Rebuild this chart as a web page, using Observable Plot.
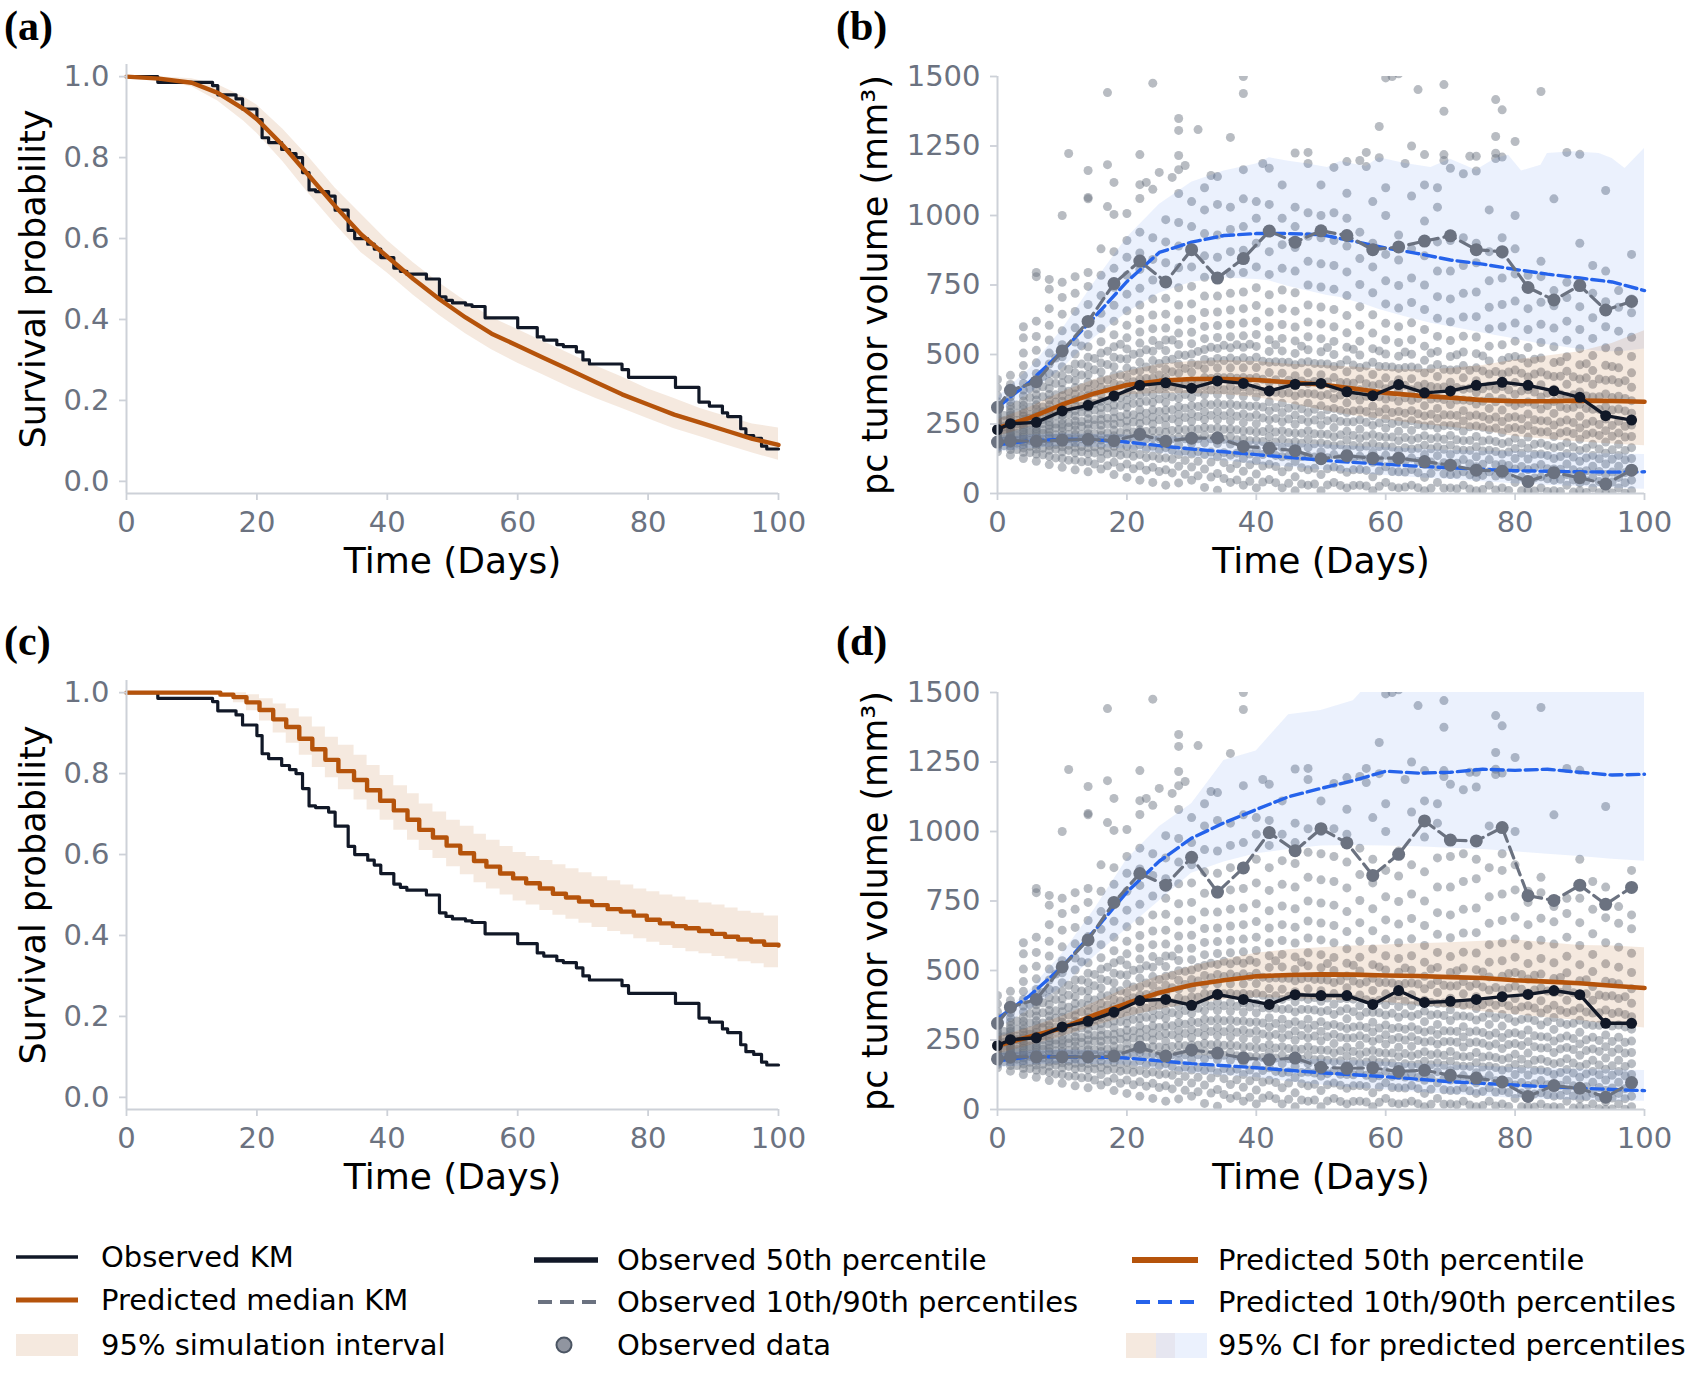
<!DOCTYPE html>
<html>
<head>
<meta charset="utf-8">
<script src="https://cdn.jsdelivr.net/npm/d3@7"></script>
<script src="https://cdn.jsdelivr.net/npm/@observablehq/plot@0.6"></script>
<style>
  body { margin: 0; background: #fff; width: 1702px; height: 1379px; position: relative; overflow: hidden;
         font-family: "DejaVu Sans", sans-serif; }
  .panel { position: absolute; }
  .tag { position: absolute; font-family: "Liberation Serif", serif; font-weight: bold; font-size: 42px; line-height: 46px; color: #000; }
  .lg { position: absolute; font-size: 29px; line-height: 36px; color: #000; white-space: nowrap; }
  .sw { position: absolute; }
</style>
</head>
<body>
<div class="tag" style="left:4px;top:3px">(a)</div>
<div class="tag" style="left:836px;top:3px">(b)</div>
<div class="tag" style="left:4px;top:618px">(c)</div>
<div class="tag" style="left:836px;top:618px">(d)</div>
<div id="pa" class="panel" style="left:0;top:0"></div>
<div id="pb" class="panel" style="left:800px;top:0"></div>
<div id="pc" class="panel" style="left:0;top:616px"></div>
<div id="pd" class="panel" style="left:800px;top:616px"></div>
<div id="legend"></div>
<script>
// ---- Observed Kaplan–Meier (same cohort in panels a and c) ----
const kmObsT = [0, 4.8, 13.2, 14, 16.8, 17.8, 20, 20.8, 21.8, 23.8, 25, 26, 27, 28, 29, 31, 32, 34, 35, 37,
  38, 39, 41, 42, 43, 46, 48, 49, 50, 52, 53, 55, 60, 63, 64, 66, 67, 69, 70, 71,
  76, 77, 84.2, 87.8, 89.4, 91.4, 92.2, 94.2, 95, 96.2, 97.4, 98.2, 100];
const kmObsS = [1.0, 0.986, 0.978, 0.955, 0.945, 0.92, 0.894, 0.849, 0.837, 0.82, 0.81, 0.8, 0.763, 0.72, 0.716, 0.705, 0.67, 0.62, 0.6, 0.586,
  0.574, 0.553, 0.527, 0.519, 0.512, 0.5, 0.456, 0.447, 0.441, 0.436, 0.432, 0.404, 0.38, 0.357, 0.349, 0.338, 0.333, 0.32, 0.3, 0.29,
  0.276, 0.257, 0.232, 0.196, 0.186, 0.169, 0.16, 0.13, 0.113, 0.106, 0.087, 0.08, 0.08];

// ---- Predicted median KM, panel (a) ----
const kmPredAT = [0, 5, 10, 14, 18, 20, 24, 28, 32, 36, 40, 44, 48, 52, 56, 60, 64, 68, 72, 76, 80, 84, 88, 92, 96, 100];
const kmPredA  = [1.0, 0.995, 0.985, 0.96, 0.92, 0.895, 0.83, 0.755, 0.68, 0.61, 0.555, 0.5, 0.45, 0.405, 0.365, 0.335, 0.305, 0.275, 0.245, 0.215, 0.19, 0.165, 0.145, 0.125, 0.105, 0.09];
const kmLoA    = [1.0, 0.99, 0.975, 0.94, 0.89, 0.86, 0.79, 0.71, 0.635, 0.565, 0.515, 0.46, 0.41, 0.365, 0.325, 0.292, 0.262, 0.232, 0.205, 0.18, 0.155, 0.13, 0.11, 0.09, 0.07, 0.052];
const kmHiA    = [1.0, 1.0, 0.995, 0.98, 0.95, 0.93, 0.87, 0.8, 0.725, 0.66, 0.595, 0.54, 0.49, 0.445, 0.405, 0.375, 0.345, 0.315, 0.285, 0.258, 0.228, 0.205, 0.18, 0.16, 0.142, 0.132];

// ---- Predicted median KM, panel (c) ----
const kmPredCT = [0, 14.4, 16.4, 18.4, 20.4, 22.5, 24.5, 26.5, 28.5, 30.5, 32.5, 34.9, 36.9, 38.9, 41, 43.1, 44.9, 47, 49.1, 51.2,
  53.3, 55.2, 57.3, 59.3, 61.3, 63.4, 65.4, 67.4, 69.4, 71.4, 73.8, 75.8, 77.8, 79.8, 81.8, 83.8, 85.8, 87.8, 89.8, 91.8,
  93.8, 95.8, 97.8, 100];
const kmPredC = [1.0, 0.995, 0.989, 0.976, 0.957, 0.934, 0.915, 0.886, 0.86, 0.834, 0.806, 0.784, 0.759, 0.733, 0.709, 0.686, 0.661, 0.642, 0.622, 0.603,
  0.584, 0.57, 0.553, 0.541, 0.529, 0.516, 0.503, 0.494, 0.484, 0.475, 0.465, 0.459, 0.449, 0.439, 0.43, 0.423, 0.418, 0.411, 0.404, 0.397,
  0.39, 0.385, 0.377, 0.375];
const kmLoC = [1.0, 0.99, 0.975, 0.955, 0.93, 0.9, 0.875, 0.845, 0.815, 0.79, 0.76, 0.735, 0.71, 0.685, 0.66, 0.635, 0.61, 0.59, 0.57, 0.55,
  0.53, 0.515, 0.5, 0.485, 0.475, 0.462, 0.45, 0.44, 0.43, 0.42, 0.41, 0.402, 0.392, 0.383, 0.375, 0.368, 0.36, 0.355, 0.348, 0.342,
  0.335, 0.33, 0.32, 0.31];
const kmHiC = [1.0, 1.0, 1.0, 0.995, 0.985, 0.972, 0.96, 0.94, 0.915, 0.89, 0.87, 0.845, 0.82, 0.795, 0.77, 0.75, 0.725, 0.705, 0.685, 0.67,
  0.65, 0.635, 0.62, 0.605, 0.595, 0.585, 0.575, 0.565, 0.555, 0.545, 0.535, 0.525, 0.515, 0.508, 0.5, 0.495, 0.487, 0.48, 0.475, 0.468,
  0.46, 0.455, 0.448, 0.444];

// ---- Observed tumour-volume percentiles ----
const obsT = [0, 2, 6, 10, 14, 18, 22, 26, 30, 34, 38, 42, 46, 50, 54, 58, 62, 66, 70, 74, 78, 82, 86, 90, 94, 98];
const obs50B = [230, 251, 256, 297, 317, 351, 389, 398, 379, 405, 396, 369, 393, 396, 366, 352, 392, 362, 369, 389, 400, 389, 369, 346, 280, 264];
const obs90B = [310, 371, 402, 513, 619, 755, 836, 761, 877, 775, 845, 944, 904, 945, 928, 877, 887, 908, 927, 877, 870, 741, 696, 748, 660, 691];
const obs10B = [185, 190, 188, 192, 195, 190, 213, 188, 199, 200, 169, 163, 154, 125, 136, 127, 127, 115, 102, 84, 80, 43, 75, 57, 34, 84];
const obs50D = [230, 251, 258, 297, 317, 350, 392, 396, 375, 414, 396, 378, 413, 410, 410, 378, 428, 385, 389, 396, 406, 414, 428, 413, 310, 310];
const obs90D = [310, 368, 396, 513, 610, 745, 849, 807, 907, 782, 869, 996, 931, 1010, 959, 842, 918, 1038, 969, 966, 1014, 769, 752, 807, 738, 799];
const obs10D = [182, 189, 189, 189, 189, 192, 224, 192, 214, 203, 185, 179, 185, 152, 148, 150, 137, 141, 123, 113, 99, 47, 86, 76, 44, 97];

// ---- Predicted percentiles and their 95% CIs ----
const predT = [0, 5, 10, 15, 20, 25, 30, 35, 40, 45, 50, 55, 60, 65, 70, 75, 80, 85, 90, 95, 100];
const pred50B = [235, 272, 320, 360, 390, 405, 412, 412, 408, 400, 392, 378, 362, 352, 345, 336, 332, 332, 334, 333, 330];
const pred90B = [310, 402, 511, 635, 762, 867, 904, 928, 935, 935, 931, 908, 883, 863, 840, 825, 806, 789, 775, 761, 730];
const pred10B = [175, 190, 195, 193, 185, 172, 160, 150, 140, 130, 120, 112, 105, 98, 92, 87, 82, 80, 78, 77, 78];
const medLoB = [205, 240, 285, 325, 355, 360, 360, 355, 345, 325, 300, 280, 265, 250, 238, 225, 205, 195, 185, 178, 172];
const medHiB = [265, 310, 365, 410, 440, 465, 475, 478, 475, 465, 460, 455, 445, 445, 450, 460, 480, 495, 510, 540, 585];
const lowLoB = [150, 162, 170, 166, 160, 145, 130, 118, 105, 95, 85, 75, 65, 57, 50, 42, 35, 30, 25, 20, 15];
const lowHiB = [200, 210, 215, 213, 210, 205, 200, 192, 185, 180, 175, 170, 165, 160, 155, 152, 150, 148, 145, 142, 140];
const upT_B  = [0, 5, 10, 15, 20, 25, 30, 35, 40, 42, 45, 48, 51, 53, 57, 59, 63, 67, 70, 74, 77, 79, 81, 84, 85, 89, 93, 95, 97, 100];
const upLoB  = [290, 360, 450, 560, 650, 720, 760, 775, 770, 765, 745, 728, 712, 705, 678, 662, 636, 612, 600, 582, 568, 560, 550, 538, 535, 522, 512, 510, 512, 520];
const upHiB  = [345, 450, 590, 760, 920, 1040, 1120, 1160, 1185, 1208, 1195, 1185, 1173, 1194, 1176, 1208, 1187, 1173, 1202, 1163, 1205, 1217, 1160, 1181, 1223, 1229, 1223, 1205, 1169, 1241];

const pred50D = [230, 262, 293, 340, 382, 420, 448, 465, 479, 484, 486, 485, 482, 480, 476, 473, 465, 460, 454, 445, 437];
const pred90D = [327, 410, 513, 644, 782, 893, 976, 1031, 1079, 1125, 1155, 1183, 1217, 1210, 1213, 1224, 1220, 1224, 1213, 1203, 1206];
const pred10D = [175, 190, 190, 188, 185, 175, 165, 158, 150, 141, 132, 125, 118, 109, 100, 94, 88, 82, 77, 72, 68];
const medLoD = [200, 230, 262, 300, 334, 360, 380, 395, 403, 400, 395, 390, 385, 375, 365, 352, 341, 330, 320, 305, 293];
const medHiD = [260, 295, 335, 385, 437, 480, 515, 540, 562, 575, 582, 588, 592, 596, 600, 605, 610, 600, 590, 588, 582];
const upLoD  = [290, 360, 440, 550, 650, 750, 850, 890, 920, 935, 948, 950, 948, 945, 940, 935, 927, 918, 910, 900, 893];
const upHiD  = [330, 430, 560, 720, 900, 1017, 1100, 1255, 1290, 1420, 1435, 1470, 1600, 1600, 1600, 1600, 1600, 1600, 1600, 1600, 1600];
const lowLoD = [150, 160, 165, 162, 160, 145, 130, 122, 115, 100, 88, 78, 70, 62, 55, 48, 40, 36, 33, 31, 30];
const lowHiD = [200, 210, 215, 212, 205, 200, 195, 190, 185, 182, 180, 175, 170, 165, 160, 155, 150, 147, 145, 142, 140];

// ---- Observed individual tumour volumes, by measurement day ----
const obsCols = [
  [0,  [150,162,171,178,184,189,194,199,203,208,212,217,221,226,230,235,240,246,252,259,266,275,286,298,312,330,352,380,410]],
  [2,  [138,158,170,180,187,193,199,205,211,217,223,229,236,243,250,257,264,272,281,291,302,315,330,348,368,392,425]],
  [4,  [126,148,164,176,186,195,203,211,220,229,238,247,257,267,278,290,303,317,333,351,372,396,425,460,505,560,600]],
  [6,  [116,142,160,174,185,195,204,213,223,233,243,254,265,277,290,304,319,336,355,377,402,432,470,515,565,620,780,795]],
  [8,  [104,134,156,172,185,197,208,220,232,245,258,272,286,301,318,336,356,378,403,432,466,505,552,605,665,735,770]],
  [10, [94,126,150,168,183,196,209,222,236,250,265,281,297,314,332,352,374,398,425,456,492,535,585,645,705,760,1000]],
  [11, [1223]],
  [12, [85,120,146,166,182,197,212,228,244,261,279,298,317,337,358,381,406,434,466,502,545,596,655,720,780]],
  [14, [78,115,143,165,183,199,215,232,250,269,289,309,330,352,375,400,427,457,490,528,572,622,680,745,795,1060,1065,1162]],
  [16, [88,126,152,174,192,209,227,246,266,287,309,332,356,381,408,437,469,505,546,593,648,712,785,880]],
  [17, [1032,1183,1442]],
  [18, [68,112,145,170,190,208,228,249,271,294,318,343,369,396,425,456,490,528,571,620,677,742,810,870,1004,1119]],
  [20, [58,106,142,170,195,216,238,261,285,310,336,363,391,420,451,484,520,560,605,657,717,785,850,910,1007]],
  [22, [48,100,140,175,205,229,252,276,301,327,354,382,411,441,472,505,541,581,626,678,738,806,865,940,1061,1111,1219]],
  [23, [1119]],
  [24, [40,94,135,170,200,226,250,275,301,328,356,385,415,446,478,512,550,593,642,700,768,842,920,1094,1476]],
  [25, [1155]],
  [26, [30,85,128,165,192,220,246,273,300,328,357,386,416,447,479,514,552,595,645,702,760,830,905,985]],
  [27, [1137]],
  [28, [38,98,140,175,203,230,257,285,313,342,372,402,433,465,499,536,577,624,678,740,812,890,975,1079,1165,1216,1306,1349]],
  [29, [1180]],
  [30, [48,95,142,180,206,232,259,287,316,345,375,405,436,468,502,539,580,627,682,745,815,880,960,1050]],
  [31, [1309]],
  [32, [22,88,140,182,210,238,266,295,325,355,386,417,449,482,518,557,601,651,710,778,855,935,1020,1100]],
  [33, [1144]],
  [34, [12,72,132,180,208,236,265,295,325,356,387,419,452,486,522,561,604,653,710,775,850,930,1040,1140]],
  [36, [40,90,138,178,205,232,261,291,322,353,385,418,452,487,524,564,609,660,720,790,870,950,1030,1281]],
  [38, [30,80,126,168,196,225,255,286,318,350,383,417,452,488,526,567,613,665,725,795,875,960,1060,1165,1439,1500]],
  [40, [20,70,118,160,190,220,251,283,315,348,382,417,453,490,529,572,620,676,740,815,900,990,1050]],
  [41, [1187]],
  [42, [50,105,150,175,204,234,265,297,330,364,399,435,472,511,553,600,653,715,788,870,950,1040,1170]],
  [44, [20,78,132,165,195,226,258,291,325,360,396,433,472,513,558,608,665,732,810,895,990,1110]],
  [46, [10,60,115,156,186,217,249,282,316,351,387,424,463,504,549,599,656,722,800,885,960,1030,1225]],
  [48, [30,85,135,165,195,226,258,291,325,360,396,434,474,517,564,617,678,750,835,925,1010,1187,1227]],
  [50, [10,68,120,150,182,214,247,281,316,352,389,427,467,510,557,610,671,743,826,920,1000,1110]],
  [52, [40,95,140,172,204,237,271,306,342,379,417,457,500,547,600,662,735,820,910,1010,1173]],
  [54, [20,76,126,160,192,224,257,291,326,362,399,438,480,526,578,640,712,797,890,990,1080,1194]],
  [56, [30,86,134,166,198,231,265,300,336,373,412,453,498,548,605,672,752,845,940,1198]],
  [57, [1227,1176]],
  [58, [10,60,112,148,180,212,245,279,314,350,388,428,472,521,577,643,722,815,900,1050]],
  [59, [1320,1208]],
  [60, [40,96,138,170,202,235,269,304,340,377,416,457,502,553,612,682,765,860,1000,1100,1495]],
  [61, [1500]],
  [62, [20,78,122,156,190,224,259,295,332,370,409,450,494,543,600,667,748,840,930,1510]],
  [63, [1187]],
  [64, [30,86,128,160,193,227,262,298,335,373,413,455,501,553,614,687,775,880,1070,1250]],
  [65, [1453]],
  [66, [10,58,105,140,174,208,243,279,316,354,393,434,479,530,590,662,750,855,980,1110,1219]],
  [68, [40,96,136,168,201,235,270,306,343,381,421,464,511,565,630,708,800,905,1030,1100]],
  [69, [1471,1375,1219,1198]],
  [70, [20,68,106,140,174,209,245,282,320,359,400,444,493,550,618,700,800,910,1170]],
  [72, [30,78,122,156,190,225,261,298,336,375,416,460,509,566,635,720,820,920,1150]],
  [73, [1213]],
  [74, [10,58,96,132,168,205,243,282,322,363,406,452,503,563,636,725,830,900,1160,1213]],
  [76, [30,78,122,156,192,229,267,306,346,387,430,477,530,593,670,765,870,1020]],
  [77, [1417,1284,1224,1205]],
  [78, [20,68,106,142,180,219,259,300,342,385,430,479,535,600,680,775,860,920,1210,1380]],
  [80, [40,88,126,162,199,237,276,316,357,399,444,493,548,613,692,790,880,1000,1266]],
  [82, [10,46,86,124,163,203,244,286,329,373,419,469,525,590,665,745,785]],
  [84, [20,60,104,142,181,221,262,304,347,391,437,487,543,609,688,780,835,1446]],
  [86, [10,48,88,126,165,205,246,288,331,375,421,471,528,595,675,730,1060]],
  [88, [30,68,106,144,183,223,264,306,349,393,440,492,551,620,705,760,1227]],
  [90, [10,38,78,116,155,195,236,278,321,365,412,463,521,590,672,760,900,1220]],
  [92, [20,58,98,137,177,218,260,303,347,393,442,496,558,632,720,820]],
  [94, [0,28,68,106,145,185,226,268,312,358,407,461,524,600,690,800,1090]],
  [96, [20,58,98,137,177,218,260,304,350,399,452,512,584,670,730]],
  [98, [10,48,88,126,165,205,246,289,334,382,434,493,562,650,700,860]]
];

// Volumes measured on odd days (the second stack beside each column)
const obsColsOdd = [
  [1,  [172,188,197,214,229,241,262,281]],
  [3,  [158,181,190,207,216,236,251,263,289,318]],
  [5,  [147,170,191,199,219,228,250,271,283,312,345,377]],
  [7,  [139,163,185,196,217,229,252,266,294,311,348,384,421]],
  [9,  [128,160,176,199,211,236,250,279,297,329,355,396,428,487]],
  [11, [120,155,174,198,212,239,255,286,306,340,368,411,447]],
  [13, [114,150,169,197,213,242,259,293,314,351,381,426,466,531]],
  [15, [106,146,168,197,215,246,266,300,324,363,394,445,486]],
  [17, [100,142,165,197,217,249,271,308,334,376,409,464,512]],
  [19, [94,138,163,197,219,253,277,316,344,390,427,485,537]],
  [21, [89,134,161,197,221,257,283,324,354,402,441,501]],
  [23, [84,129,160,197,223,261,289,332,364,414,455,517]],
  [25, [79,126,157,197,225,265,295,340,374,426,468,533]],
  [27, [74,123,155,197,227,269,301,348,384,438,483,552]],
  [29, [69,119,153,197,229,273,307,356,394,450,497]],
  [31, [64,116,151,197,231,277,313,364,404,462,511]],
  [33, [59,113,149,197,233,281,319,372,414,474,526]],
  [35, [54,111,147,195,231,280,319,373,416,478,533]],
  [37, [49,107,145,193,229,278,317,371,415,478,535]],
  [39, [44,103,142,190,226,275,314,369,414,478,537]],
  [41, [41,99,140,187,223,272,311,366,411,476]],
  [43, [39,97,137,185,221,270,309,364,409,474,535]],
  [45, [37,95,135,183,219,268,307,362,407,472]],
  [47, [34,93,133,181,217,266,305,360,405,470,530]],
  [49, [34,91,131,179,215,264,303,358,403,468]],
  [51, [31,89,129,177,213,262,301,356,401,466,525]],
  [53, [29,87,127,175,211,260,299,354,399,464]],
  [55, [29,85,125,173,209,258,297,352,397,462,519]],
  [57, [27,83,123,171,207,256,295,350,395,459]],
  [59, [26,81,121,169,205,254,293,348,393,457,513]],
  [61, [24,79,119,167,203,252,291,346,391,455]],
  [63, [23,77,117,165,201,250,289,344,389,453,509]],
  [65, [21,75,115,163,199,248,287,342,387,451]],
  [67, [19,73,113,161,197,246,285,340,385,449,505]],
  [69, [19,71,111,159,195,244,283,338,383,447]],
  [71, [17,69,109,157,193,242,281,336,381,445,499]],
  [73, [16,67,107,155,191,240,279,334,379,443]],
  [75, [14,65,105,153,189,238,277,332,377,441,495]],
  [77, [13,63,103,151,187,236,275,330,375,439]],
  [79, [11,61,101,149,185,234,273,328,373,437,489]],
  [81, [10,59,97,145,181,230,269,324,369,433,486]],
  [83, [9,56,93,141,177,226,265,320,365,430,483]],
  [85, [7,53,89,137,173,222,261,316,361,426]],
  [87, [7,51,87,133,169,218,257,312,357,422,475]],
  [89, [5,49,85,131,167,216,255,310,355,420]],
  [91, [4,46,82,128,163,212,251,306,351,416,467]],
  [93, [3,43,79,125,160,209,248,303,348,412]],
  [95, [2,41,77,123,157,206,245,300,345,409,457]],
  [97, [1,39,75,121,155,203,242,297,342,406]]
];

// ---- Styling ----
const C = {
  obs: "#111827", pred: "#b5530b", blue: "#2563eb", grey: "#6b7280",
  tick: "#6b7280", spine: "#cdd1d8", band: "#b5530b"
};
const baseStyle = { fontFamily: "DejaVu Sans", fontSize: "29px", background: "transparent", overflow: "visible" };

function axes(yTicks, yFormat) {
  return [
    Plot.axisX({ ticks: [0, 20, 40, 60, 80, 100], tickSize: 7, tickPadding: 11, stroke: C.spine, strokeWidth: 1.8, fill: C.tick, label: null, fontSize: 29 }),
    Plot.axisY({ ticks: yTicks, tickSize: 7, tickPadding: 10, stroke: C.spine, strokeWidth: 1.8, fill: C.tick, label: null, fontSize: 29, tickFormat: yFormat })
  ];
}

function titles(yTitle, yOffset) {
  return [
    Plot.text([ "Time (Days)" ], { text: d => d, frameAnchor: "bottom", lineAnchor: "middle", textAnchor: "middle", dy: 68, fontSize: 36, fill: "#000" }),
    Plot.text([ yTitle ], { text: d => d, frameAnchor: "left", lineAnchor: "middle", textAnchor: "middle", dx: yOffset, rotate: -90, fontSize: 35, fill: "#000" })
  ];
}

function survivalPanel(tArr, sArr, loArr, hiArr, curve) {
  const km = kmObsT.map((t, i) => ({ t, s: kmObsS[i] }));
  const pred = tArr.map((t, i) => ({ t, s: sArr[i], lo: loArr[i], hi: hiArr[i] }));
  return Plot.plot({
    width: 820, height: 610,
    marginLeft: 126, marginRight: 42, marginTop: 64, marginBottom: 117,
    x: { domain: [0, 100], label: null },
    y: { domain: [-0.03, 1.03], label: null },
    style: baseStyle,
    marks: [
      Plot.areaY(pred, { x: "t", y1: "lo", y2: "hi", fill: C.band, fillOpacity: 0.13, curve }),
      Plot.line(km, { x: "t", y: "s", stroke: C.obs, strokeWidth: 3.2, curve: "step-after" }),
      Plot.line(pred, { x: "t", y: "s", stroke: C.pred, strokeWidth: 4.4, curve }),
      Plot.ruleX([0], { stroke: C.spine, strokeWidth: 2 }),
      Plot.ruleY([-0.03], { stroke: C.spine, strokeWidth: 2 }),
      ...axes([0, 0.2, 0.4, 0.6, 0.8, 1.0], d3.format(".1f")),
      ...titles("Survival probability", -93)
    ]
  });
}

function tumorPanel(o50, o90, o10, p50, p90, p10, mLo, mHi, uT, uLo, uHi, lLo, lHi) {
  const dots = [...obsCols, ...obsColsOdd].flatMap(([t, vs]) => vs.map(v => ({ t, v })));
  const obs = obsT.map((t, i) => ({ t, o50: o50[i], o90: o90[i], o10: o10[i] }));
  const pred = predT.map((t, i) => ({ t, p50: p50[i], p90: p90[i], p10: p10[i], mLo: mLo[i], mHi: mHi[i], lLo: lLo[i], lHi: lHi[i] }));
  const up = uT.map((t, i) => ({ t, lo: uLo[i], hi: uHi[i] }));
  return Plot.plot({
    width: 900, height: 610,
    marginLeft: 197, marginRight: 56, marginTop: 76, marginBottom: 117,
    x: { domain: [0, 100], label: null },
    y: { domain: [0, 1500], label: null },
    style: baseStyle,
    marks: [
      Plot.dot(dots, { x: "t", y: "v", r: 4.5, fill: C.grey, fillOpacity: 0.48, clip: true }),
      Plot.areaY(up, { x: "t", y1: "lo", y2: "hi", fill: C.blue, fillOpacity: 0.09, clip: true }),
      Plot.areaY(pred, { x: "t", y1: "lLo", y2: "lHi", fill: C.blue, fillOpacity: 0.09, clip: true }),
      Plot.areaY(pred, { x: "t", y1: "mLo", y2: "mHi", fill: C.band, fillOpacity: 0.13, clip: true }),
      Plot.line(pred, { x: "t", y: "p90", stroke: C.blue, strokeWidth: 3.4, strokeDasharray: "12,5" }),
      Plot.line(pred, { x: "t", y: "p10", stroke: C.blue, strokeWidth: 3.4, strokeDasharray: "12,5" }),
      Plot.line(pred, { x: "t", y: "p50", stroke: C.pred, strokeWidth: 4.6 }),
      Plot.line(obs, { x: "t", y: "o90", stroke: C.grey, strokeWidth: 3.2, strokeDasharray: "12,6" }),
      Plot.line(obs, { x: "t", y: "o10", stroke: C.grey, strokeWidth: 3.2, strokeDasharray: "12,6" }),
      Plot.dot(obs, { x: "t", y: "o90", r: 6.5, fill: C.grey }),
      Plot.dot(obs, { x: "t", y: "o10", r: 6.5, fill: C.grey }),
      Plot.line(obs, { x: "t", y: "o50", stroke: C.obs, strokeWidth: 3.4 }),
      Plot.dot(obs, { x: "t", y: "o50", r: 5.5, fill: C.obs }),
      Plot.ruleX([0], { stroke: C.spine, strokeWidth: 2 }),
      Plot.ruleY([0], { stroke: C.spine, strokeWidth: 2 }),
      ...axes([0, 250, 500, 750, 1000, 1250, 1500], d3.format("d")),
      ...titles("pc tumor volume (mm³)", -122)
    ]
  });
}

document.getElementById("pa").append(survivalPanel(kmPredAT, kmPredA, kmLoA, kmHiA, "linear"));
document.getElementById("pc").append(survivalPanel(kmPredCT, kmPredC, kmLoC, kmHiC, "step-after"));
document.getElementById("pb").append(tumorPanel(obs50B, obs90B, obs10B, pred50B, pred90B, pred10B, medLoB, medHiB, upT_B, upLoB, upHiB, lowLoB, lowHiB));
document.getElementById("pd").append(tumorPanel(obs50D, obs90D, obs10D, pred50D, pred90D, pred10D, medLoD, medHiD, predT, upLoD, upHiD, lowLoD, lowHiD));

// ---- Legend ----
const legendItems = [
  { x: 16,   tx: 101,  y: 1257, label: "Observed KM",                       sw: '<line x1="0" y1="20" x2="62" y2="20" stroke="#111827" stroke-width="3.5"/>' },
  { x: 16,   tx: 101,  y: 1300, label: "Predicted median KM",               sw: '<line x1="0" y1="20" x2="62" y2="20" stroke="#b5530b" stroke-width="5"/>' },
  { x: 16,   tx: 101,  y: 1345, label: "95% simulation interval",           sw: '<rect x="0" y="9" width="62" height="22" fill="#b5530b" fill-opacity="0.13"/>' },
  { x: 534,  tx: 617,  y: 1260, label: "Observed 50th percentile",          sw: '<line x1="0" y1="20" x2="64" y2="20" stroke="#111827" stroke-width="5.5"/>' },
  { x: 534,  tx: 617,  y: 1302, label: "Observed 10th/90th percentiles",    sw: '<line x1="4" y1="20" x2="64" y2="20" stroke="#6b7280" stroke-width="4" stroke-dasharray="14,8"/>' },
  { x: 534,  tx: 617,  y: 1345, label: "Observed data",                     sw: '<circle cx="30" cy="20" r="7.5" fill="#6b7280" fill-opacity="0.75" stroke="#4b5563" stroke-width="2"/>' },
  { x: 1132, tx: 1218, y: 1260, label: "Predicted 50th percentile",         sw: '<line x1="0" y1="20" x2="66" y2="20" stroke="#b5530b" stroke-width="6"/>' },
  { x: 1132, tx: 1218, y: 1302, label: "Predicted 10th/90th percentiles",   sw: '<line x1="4" y1="20" x2="66" y2="20" stroke="#2563eb" stroke-width="4" stroke-dasharray="14,8"/>' },
  { x: 1126, tx: 1218, y: 1345, label: "95% CI for predicted percentiles",  sw: '<rect x="0" y="8" width="30" height="25" fill="#b5530b" fill-opacity="0.13"/><rect x="30" y="8" width="19" height="25" fill="#e6e6f0"/><rect x="49" y="8" width="32" height="25" fill="#2563eb" fill-opacity="0.09"/>' }
];
const legend = document.getElementById("legend");
for (const it of legendItems) {
  const s = document.createElement("div");
  s.className = "sw";
  s.style.left = it.x + "px";
  s.style.top = (it.y - 20) + "px";
  s.innerHTML = `<svg width="84" height="40">${it.sw}</svg>`;
  legend.append(s);
  const t = document.createElement("div");
  t.className = "lg";
  t.style.left = it.tx + "px";
  t.style.top = (it.y - 18) + "px";
  t.textContent = it.label;
  legend.append(t);
}
</script>
</body>
</html>
